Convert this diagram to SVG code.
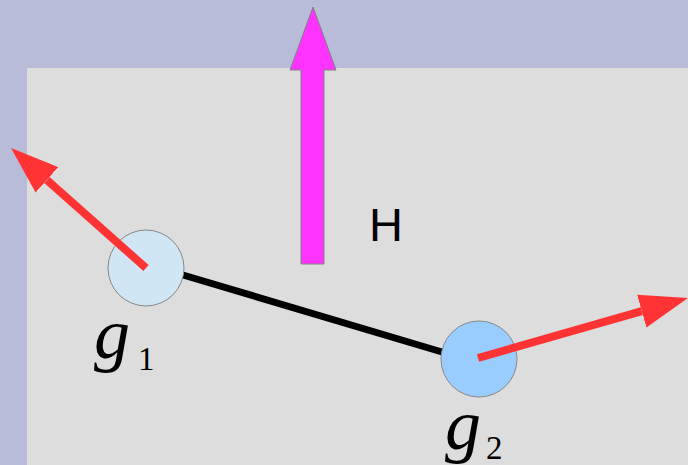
<svg xmlns="http://www.w3.org/2000/svg" width="688" height="465" viewBox="0 0 688 465">
<style>
.red{stroke:#ff3333;stroke-width:8;fill:none}
.node{stroke:#888888;stroke-width:1}
.g{font-family:"Liberation Serif","Times New Roman",serif;font-style:italic;font-size:72px;fill:#000}
.sub{font-family:"Liberation Serif","Times New Roman",serif;font-size:33px;fill:#000}
.lbl{font-family:"Liberation Sans",Arial,sans-serif;font-size:47px;fill:#000}
</style>
<defs>
<marker id="head" markerUnits="userSpaceOnUse" viewBox="0 0 48 34" markerWidth="48" markerHeight="34" refX="0" refY="17" orient="auto">
<path d="M0,0 L48,17 L0,34 z" fill="#ff3333"/>
</marker>
</defs>
<rect x="0" y="0" width="688" height="465" fill="#b8bcd8"/>
<rect x="27" y="68" width="661" height="397" fill="#dddddd"/>
<g id="H-field">
<polygon points="301,264 301,70 290,70 313,7 336,70 324,70 324,264" fill="#ff33ff" stroke="#808080" stroke-width="1"/>
<text class="lbl" x="369" y="241">H</text>
</g>
<g id="connectors">
<line x1="183" y1="275" x2="442" y2="352" stroke="#000" stroke-width="7"/>
</g>
<g id="g1">
<circle class="node" cx="146" cy="268" r="38" fill="#d0e6f4"/>
<text x="94" y="358"><tspan class="g">g</tspan><tspan class="sub" x="138" y="370">1</tspan></text>
</g>
<g id="g2">
<circle class="node" cx="479" cy="359" r="38" fill="#99ccff"/>
<text x="445" y="449"><tspan class="g">g</tspan><tspan class="sub" x="486" y="459">2</tspan></text>
</g>
<g id="forces">
<line class="red" x1="146" y1="268" x2="46.9" y2="179.9" marker-end="url(#head)"/>
<line class="red" x1="478" y1="358" x2="641.8" y2="311.2" marker-end="url(#head)"/>
</g>
</svg>
